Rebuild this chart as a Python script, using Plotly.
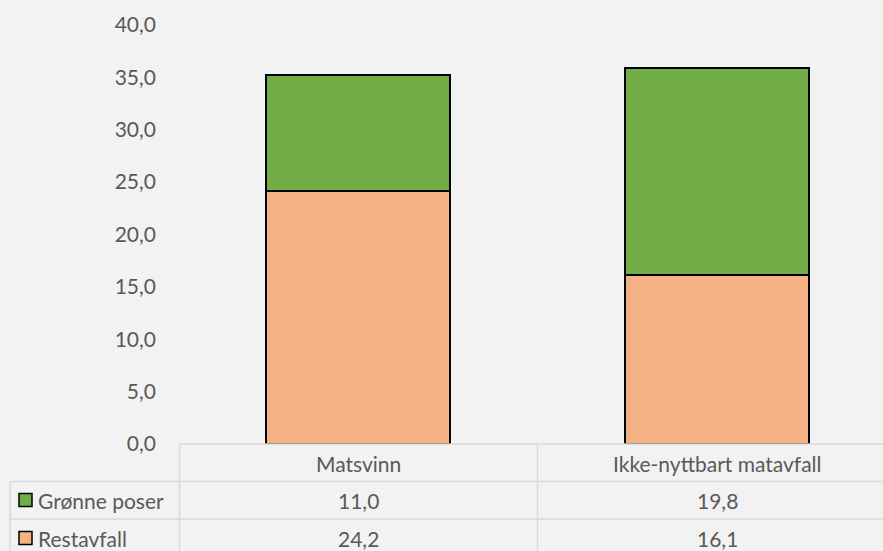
import plotly.graph_objects as go

categories = ["Matsvinn", "Ikke-nyttbart matavfall"]
series_names = ["Restavfall", "Grønne poser"]
restavfall = [24.2, 16.1]
gronne_poser = [11.0, 19.8]
y_ticks = [0, 5, 10, 15, 20, 25, 30, 35, 40]

colors = {"Restavfall": "#F4B183", "Grønne poser": "#70AD47"}
FONT = "Lato"
TXT = "#595959"
GRID = "#D9D9D9"
FS = 21

W, H = 883, 551
L, T, B = 179, 25, 107
plot_w = W - L
plot_h = H - T - B
y0_px = H - B


def fmt(v):
    return f"{v:.1f}".replace(".", ",")


def px_x(px):
    return (px - L) / plot_w


def px_y(py):
    return (y0_px - py) / plot_h


fig = go.Figure()
for name, vals in [("Restavfall", restavfall), ("Grønne poser", gronne_poser)]:
    fig.add_trace(go.Bar(
        x=list(range(len(categories))), y=vals, name=name,
        marker=dict(color=colors[name], line=dict(color="#000000", width=2)),
        width=0.513, showlegend=False, hoverinfo="y+name",
    ))

shapes = []
def line(x0, y0, x1, y1):
    shapes.append(dict(type="line", xref="paper", yref="paper",
                       x0=px_x(x0), y0=px_y(y0), x1=px_x(x1), y1=px_y(y1),
                       line=dict(color=GRID, width=1.5), layer="above"))

line(179.5, 444, W, 444)
line(10, 481.5, W, 481.5)
line(10, 519, W, 519)
line(10, 481.5, 10, H)
line(179.5, 444, 179.5, H)
line(537.5, 444, 537.5, H)

annotations = []
row_y = {"header": 463, "Grønne poser": 500, "Restavfall": 538}
for i, c in enumerate(categories):
    annotations.append(dict(x=i, y=px_y(row_y["header"]), xref="x", yref="paper",
                            text=c, showarrow=False, xanchor="center", yanchor="middle",
                            font=dict(family=FONT, size=FS, color=TXT)))
for name, vals in [("Grønne poser", gronne_poser), ("Restavfall", restavfall)]:
    for i, v in enumerate(vals):
        annotations.append(dict(x=i, y=px_y(row_y[name]), xref="x", yref="paper",
                                text=fmt(v), showarrow=False, xanchor="center", yanchor="middle",
                                font=dict(family=FONT, size=FS, color=TXT)))
    cy = row_y[name]
    shapes.append(dict(type="rect", xref="paper", yref="paper",
                       x0=px_x(19), x1=px_x(32), y0=px_y(cy - 6.5), y1=px_y(cy + 6.5),
                       fillcolor=colors[name], line=dict(color="#000000", width=1.5), layer="above"))
    annotations.append(dict(x=px_x(36), y=px_y(cy), xref="paper", yref="paper",
                            text=name, showarrow=False, xanchor="left", yanchor="middle",
                            font=dict(family=FONT, size=FS, color=TXT)))

fig.update_layout(
    width=W, height=H,
    margin=dict(l=L, r=0, t=T, b=B, pad=0),
    paper_bgcolor="#F2F2F2", plot_bgcolor="#F2F2F2",
    barmode="stack", bargap=0,
    font=dict(family=FONT, size=FS, color=TXT),
    xaxis=dict(range=[-0.5, (W - 358) / 359], showticklabels=False, showgrid=False,
               zeroline=False, showline=False, ticks=""),
    yaxis=dict(range=[0, 40], tickvals=y_ticks, ticktext=[fmt(v) for v in y_ticks],
               showgrid=False, zeroline=False, showline=False, ticks="",
               ticklabelstandoff=22, tickfont=dict(family=FONT, size=FS, color=TXT)),
    shapes=shapes, annotations=annotations,
)

fig.write_html("out.html")
